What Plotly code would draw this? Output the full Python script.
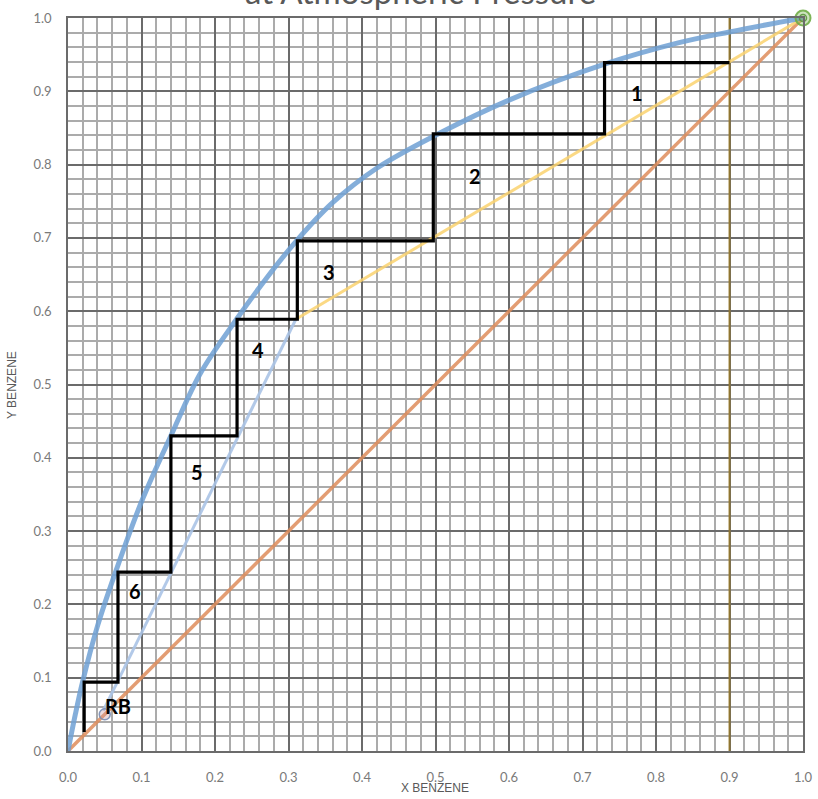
import plotly.graph_objects as go

# ---- data ----
eq_x = [0.0, 0.01, 0.02, 0.04, 0.065, 0.1, 0.14, 0.18, 0.23, 0.27, 0.31, 0.36, 0.42, 0.5, 0.6, 0.73, 0.83, 0.9, 1.0]
eq_y = [0.0, 0.05, 0.095, 0.17, 0.245, 0.34, 0.43, 0.515, 0.59, 0.645, 0.695, 0.748, 0.795, 0.84, 0.888, 0.937, 0.966, 0.981, 1.0]

diag_x = [0.0, 1.0]
diag_y = [0.0, 1.0]

rect_x = [0.31, 1.0]
rect_y = [0.589, 1.0]

strip_x = [0.048, 0.31]
strip_y = [0.055, 0.589]

feed_x = [0.9, 0.9]
feed_y = [0.0, 1.0]

step_x = [0.9, 0.73, 0.73, 0.497, 0.497, 0.312, 0.312, 0.23, 0.23, 0.14, 0.14, 0.068, 0.068, 0.022, 0.022]
step_y = [0.939, 0.939, 0.842, 0.842, 0.696, 0.696, 0.589, 0.589, 0.43, 0.43, 0.244, 0.244, 0.094, 0.094, 0.026]

stage_labels = ["1", "2", "3", "4", "5", "6", "RB"]
stage_x = [0.774, 0.554, 0.355, 0.259, 0.176, 0.091, 0.0685]
stage_y = [0.898, 0.784, 0.653, 0.547, 0.381, 0.218, 0.061]

top_pt = (1.0, 1.0)
rb_pt = (0.05, 0.05)

tick_vals = [i / 10 for i in range(11)]
tick_text = [f"{v:.1f}" for v in tick_vals]

fig = go.Figure()

fig.add_trace(go.Scatter(x=diag_x, y=diag_y, mode="lines",
                         line=dict(color="rgba(222,140,90,0.85)", width=3.5), hoverinfo="skip"))
fig.add_trace(go.Scatter(x=feed_x, y=feed_y, mode="lines",
                         line=dict(color="rgba(150,120,40,0.85)", width=2), hoverinfo="skip"))
fig.add_trace(go.Scatter(x=rect_x, y=rect_y, mode="lines",
                         line=dict(color="rgba(250,210,110,0.85)", width=3), hoverinfo="skip"))
fig.add_trace(go.Scatter(x=strip_x, y=strip_y, mode="lines",
                         line=dict(color="rgba(170,195,230,0.9)", width=3), hoverinfo="skip"))
fig.add_trace(go.Scatter(x=eq_x, y=eq_y, mode="lines", line_shape="spline",
                         line=dict(color="rgba(110,160,212,0.85)", width=5, smoothing=1.0),
                         hoverinfo="skip"))
fig.add_trace(go.Scatter(x=step_x, y=step_y, mode="lines",
                         line=dict(color="black", width=3.2), hoverinfo="skip"))
fig.add_trace(go.Scatter(x=[top_pt[0]], y=[top_pt[1]], mode="markers", cliponaxis=False,
                         marker=dict(size=15, color="rgba(112,173,71,0.35)",
                                     line=dict(color="rgba(112,173,71,0.9)", width=2)),
                         hoverinfo="skip"))
fig.add_trace(go.Scatter(x=[top_pt[0]], y=[top_pt[1]], mode="markers", cliponaxis=False,
                         marker=dict(size=7, color="rgba(255,255,255,0)",
                                     line=dict(color="rgba(90,150,60,0.9)", width=1.5)),
                         hoverinfo="skip"))
fig.add_trace(go.Scatter(x=[rb_pt[0]], y=[rb_pt[1]], mode="markers",
                         marker=dict(size=11, color="rgba(200,150,160,0.35)",
                                     line=dict(color="rgba(120,140,180,0.9)", width=1.5)),
                         hoverinfo="skip"))

for t, x, y in zip(stage_labels, stage_x, stage_y):
    fig.add_annotation(x=x, y=y, text=f"<b>{t}</b>", showarrow=False,
                       font=dict(family="Lato", size=20, color="black"))

# title (mostly cut off at the top of the page)
fig.add_annotation(x=(420 - 68) / 735, xref="paper", y=1 + (18 - 13) / 733, yref="paper",
                   yanchor="bottom", text="at Atmospheric Pressure", showarrow=False,
                   font=dict(family="Lato", size=33, color="#595959"))
# axis titles
fig.add_annotation(x=(435 - 68) / 735, xref="paper", y=-(788 - 751) / 733, yref="paper",
                   text="X BENZENE", showarrow=False, yanchor="middle",
                   font=dict(family="Liberation Sans Narrow, Liberation Sans", size=12, color="#595959"))
fig.add_annotation(x=-(68 - 12) / 735, xref="paper", y=(751 - 385) / 733, yref="paper",
                   text="Y BENZENE", showarrow=False, textangle=-90, xanchor="center",
                   font=dict(family="Liberation Sans Narrow, Liberation Sans", size=12, color="#595959"))

axis_common = dict(
    range=[0, 1], tickmode="array", tickvals=tick_vals, ticktext=tick_text,
    showgrid=True, gridcolor="#6b6b6b", gridwidth=1.5,
    zeroline=False, showline=True, linecolor="#6b6b6b", linewidth=1.5, mirror=True,
    ticks="", tickfont=dict(family="Lato", size=13, color="#7a7a7a"),
    minor=dict(dtick=0.02, showgrid=True, gridcolor="#ababab", gridwidth=2),
    fixedrange=True, automargin=False,
)
fig.update_xaxes(**axis_common, ticklabelstandoff=14)
fig.update_yaxes(**axis_common, ticklabelstandoff=12)

fig.update_layout(
    width=818, height=799,
    margin=dict(l=68, r=15, t=18, b=48),
    plot_bgcolor="white", paper_bgcolor="white",
    showlegend=False,
)

fig.write_html("out.html")
